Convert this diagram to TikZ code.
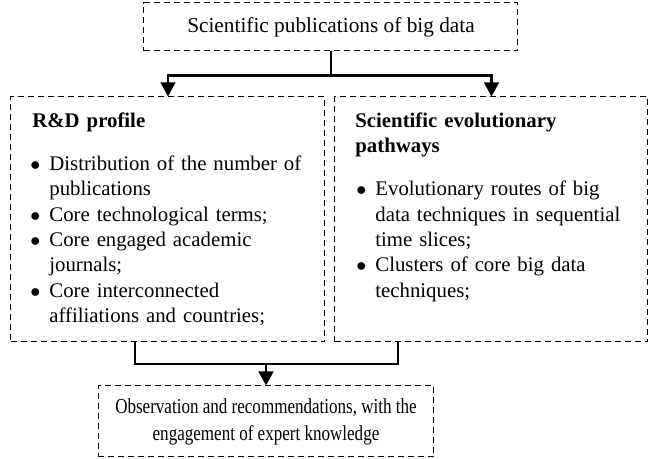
\documentclass[tikz,border=0pt]{standalone}
\usepackage{fontspec}
\setmainfont{Liberation Serif}
\newfontfamily\narrowserif[FakeStretch=0.8]{Liberation Serif}
\usepackage{enumitem}
\usetikzlibrary{arrows.meta}

\setlist[itemize]{label=$\bullet$, labelsep=4.5pt, topsep=8.85pt,
                  itemsep=0pt, parsep=0pt, partopsep=0pt}

\begin{document}
\begin{tikzpicture}[
    x=0.5pt, y=-0.5pt,
    font=\fontsize{10.65pt}{12.65pt}\selectfont,
    box/.style={draw, dash pattern=on 3.2pt off 1.8pt, line width=0.5pt,
                inner sep=0pt, align=center},
    flow/.style={-{Triangle[length=7pt,width=7.3pt]}, line width=1.25pt},
    joint/.style={line width=1.25pt},
    txt/.style={anchor=north west, inner sep=0pt, align=left,
                font=\fontsize{10.4pt}{12.65pt}\selectfont}
]
\useasboundingbox (0,0) rectangle (650,459);

% boxes
\node[box, minimum width=187pt, minimum height=24pt] (pub) at (331,27)
    {Scientific publications of big data};
\node[box, minimum width=157pt, minimum height=122.5pt] (rd) at (168,219.5) {};
\node[box, minimum width=156.5pt, minimum height=122.5pt] (ev) at (491.5,219.5) {};
\node[box, minimum width=168pt, minimum height=35.5pt,
      font=\narrowserif\fontsize{10.65pt}{13.5pt}\selectfont] (obs) at (266,421.5)
    {Observation and recommendations, with the\\engagement of expert knowledge};

% box contents
\node[txt, text width=150pt] (rdtxt) at (32,112.5) {%
    \textbf{R\&D profile}
    \begin{itemize}[leftmargin=8.5pt]
    \item Distribution of the number of\newline publications
    \item Core technological terms;
    \item Core engaged academic\newline journals;
    \item Core interconnected\newline affiliations and countries;
    \end{itemize}};
\node[txt, text width=145pt] (evtxt) at (355,112.5) {%
    \textbf{Scientific evolutionary}\newline\textbf{pathways}
    \begin{itemize}[leftmargin=10pt]
    \item Evolutionary routes of big\newline data techniques in sequential\newline time slices;
    \item Clusters of core big data\newline techniques;
    \end{itemize}};

% connectors
\draw[joint] (pub.south) -- ++(0,24) coordinate (fork);
\draw[flow] (fork) -| (rd.north);
\draw[flow] (fork) -| (ev.north);

\coordinate (lj) at (135,364);
\coordinate (rj) at (398,364);
\draw[joint] (rd.south -| lj) |- (rj) -- (rj |- ev.south);
\draw[flow] (obs.north |- lj) -- (obs.north);

\end{tikzpicture}
\end{document}
